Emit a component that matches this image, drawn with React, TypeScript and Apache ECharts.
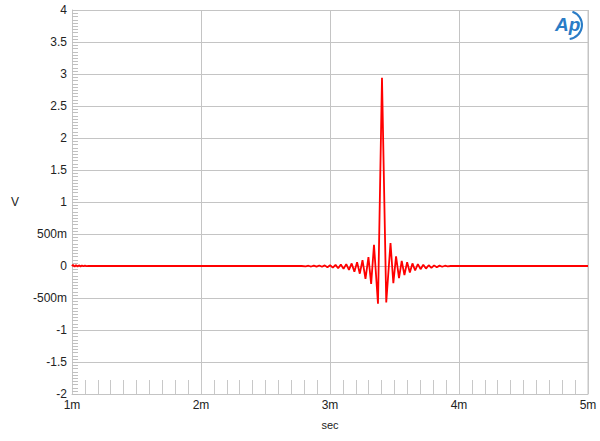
import React, { useEffect, useRef } from "react";
import * as echarts from "echarts";

// time in ms (axis shows "m" = milli-seconds), values in volts
const startTimes = [1.0, 1.008, 1.02, 1.031, 1.043, 1.054, 1.066, 1.077, 1.089, 1.1, 1.112, 1.13, 1.16, 2.78];
const startValues = [-0.005, 0.02, -0.012, 0.014, -0.008, 0.01, -0.006, 0.008, -0.004, 0.005, -0.003, 0.002, 0, 0];

const ringTimes = [
  2.812, 2.833, 2.854, 2.875, 2.896, 2.917, 2.938, 2.959, 2.98, 3.001, 3.022, 3.043, 3.063, 3.084,
  3.105, 3.126, 3.147, 3.168, 3.189, 3.21, 3.231, 3.252, 3.275, 3.298, 3.319, 3.341, 3.372, 3.403,
  3.436, 3.469, 3.491, 3.512, 3.535, 3.556, 3.577, 3.598, 3.619, 3.639, 3.66, 3.681, 3.702, 3.723,
  3.744, 3.765, 3.786, 3.807, 3.828, 3.849, 3.87, 3.891, 3.912, 3.935,
];
const ringValues = [
  -0.006, 0.004, -0.008, 0.006, -0.01, 0.008, -0.012, 0.01, -0.02, 0.012, -0.025, 0.018, -0.035, 0.022,
  -0.045, 0.03, -0.06, 0.04, -0.09, 0.06, -0.12, 0.09, -0.2, 0.14, -0.28, 0.33, -0.59, 2.94,
  -0.57, 0.36, -0.27, 0.15, -0.19, 0.08, -0.14, 0.06, -0.1, 0.04, -0.07, 0.03, -0.05, 0.02,
  -0.04, 0.012, -0.03, 0.01, -0.02, 0.006, -0.012, 0.004, -0.006, 0,
];

const endTimes = [5.0];
const endValues = [0];

const xTickValues = [1, 2, 3, 4, 5];
const yTickLabels = ["-2", "-1.5", "-1", "-500m", "0", "500m", "1", "1.5", "2", "2.5", "3", "3.5", "4"];
const yMin = -2;
const yMax = 4;
const yMinorStep = 0.05;

const FONT = "'Liberation Sans', Arial, sans-serif";

function fmtY(v: number): string {
  const idx = Math.round((v + 2) / 0.5);
  return yTickLabels[idx] ?? String(v);
}

export default function App() {
  const ref = useRef<HTMLDivElement>(null);
  useEffect(() => {
    if (!ref.current) return;
    const chart = echarts.init(ref.current, undefined, { renderer: "svg" });
    const times = [...startTimes, ...ringTimes, ...endTimes];
    const values = [...startValues, ...ringValues, ...endValues];
    const data = times.map((t, i) => [t, values[i]]);
    const minorTickData: number[][] = [];
    const nMinor = Math.round((yMax - yMin) / yMinorStep);
    for (let i = 0; i <= nMinor; i++) {
      minorTickData.push([1, +(yMin + i * yMinorStep).toFixed(3)]);
    }
    const gridColor = "#c4c4c4";
    const minorColor = "#c8c8c8";
    chart.setOption({
      animation: false,
      backgroundColor: "#ffffff",
      grid: { left: 72, right: 12, top: 10, bottom: 47, containLabel: false },
      xAxis: {
        type: "value",
        min: 1,
        max: 5,
        interval: 1,
        name: "sec",
        nameLocation: "middle",
        nameGap: 25,
        nameTextStyle: { fontFamily: FONT, fontSize: 11, color: "#222" },
        axisLine: { show: true, onZero: false, lineStyle: { color: gridColor, width: 1 } },
        axisTick: { show: true, inside: true, length: 14, lineStyle: { color: minorColor } },
        minorTick: { show: true, splitNumber: 10, length: 14, lineStyle: { color: minorColor, width: 1 } },
        splitLine: { show: true, lineStyle: { color: gridColor, width: 1 } },
        axisLabel: {
          fontFamily: FONT,
          fontSize: 12,
          color: "#222",
          margin: 5,
          formatter: (v: number) => (xTickValues.includes(v) ? `${v}m` : ""),
        },
      },
      yAxis: {
        type: "value",
        min: yMin,
        max: yMax,
        interval: 0.5,
        name: "V",
        nameLocation: "middle",
        nameRotate: 0,
        nameGap: 53,
        nameTextStyle: { fontFamily: FONT, fontSize: 12, color: "#222" },
        axisLine: { show: true, onZero: false, lineStyle: { color: gridColor, width: 1 } },
        axisTick: { show: false },
        splitLine: { show: true, lineStyle: { color: gridColor, width: 1 } },
        axisLabel: {
          show: true,
          fontFamily: FONT,
          fontSize: 12,
          color: "#222",
          margin: 5,
          formatter: (v: number) => fmtY(v),
        },
      },
      series: [
        {
          type: "custom",
          name: "yMinorTicks",
          data: minorTickData,
          silent: true,
          z: 1,
          renderItem: (params: any, api: any) => {
            const p = api.coord([api.value(0), api.value(1)]);
            const y = Math.round(p[1]) + 0.5;
            return {
              type: "line",
              shape: { x1: p[0], y1: y, x2: p[0] + 6, y2: y },
              style: { stroke: "#c0c0c0", lineWidth: 1 },
              silent: true,
            };
          },
        },
        {
          type: "line",
          data,
          showSymbol: false,
          symbol: "none",
          lineStyle: { color: "#ff0000", width: 1.8 },
          itemStyle: { color: "#ff0000" },
          z: 5,
        },
      ],
      graphic: [
        {
          type: "line",
          shape: { x1: 588, y1: 10, x2: 588, y2: 394 },
          style: { stroke: gridColor, lineWidth: 1 },
          silent: true,
        },
        {
          type: "text",
          x: 555,
          y: 15,
          style: {
            text: "Ap",
            font: `italic bold 19px ${FONT}`,
            fill: "#2a7cc6",
          },
          silent: true,
        },
        {
          type: "arc",
          shape: { cx: 568, cy: 25, r: 14, startAngle: -1.25, endAngle: 1.45 },
          style: { stroke: "#2a7cc6", lineWidth: 2, fill: "none" },
          silent: true,
        },
      ],
    });
    return () => chart.dispose();
  }, []);
  return (
    <div
      ref={ref}
      style={{ position: "fixed", left: 0, top: 0, width: 600, height: 441, background: "#fff" }}
    />
  );
}
